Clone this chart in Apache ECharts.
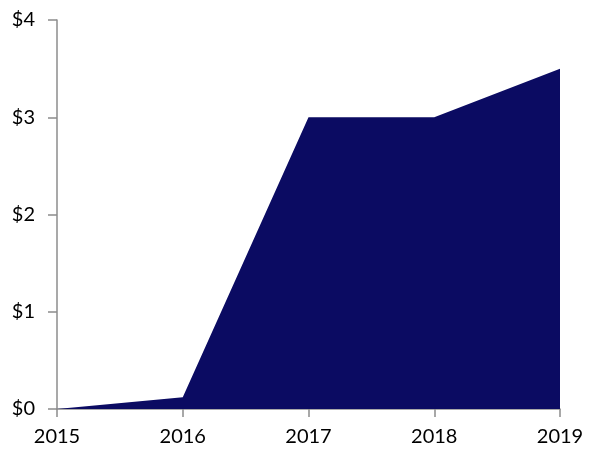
<!DOCTYPE html>
<html><head><meta charset="utf-8">
<script src="https://cdn.jsdelivr.net/npm/echarts@6/dist/echarts.min.js"></script>
<style>html,body{margin:0;padding:0;background:#fff}#c{width:596px;height:452px}</style>
</head><body><div id="c"></div>
<script>
const categories = ['2015', '2016', '2017', '2018', '2019'];
const values = [0, 0.12, 3, 3, 3.5];
const yTicks = [0, 1, 2, 3, 4];

const chart = echarts.init(document.getElementById('c'), null, {renderer: 'canvas'});
const axisColor = '#8c8c8c';
const font = 'Lato, "Open Sans", sans-serif';
chart.setOption({
  animation: false,
  grid: {left: 57, right: 36, top: 20, bottom: 43},
  xAxis: {
    type: 'category', data: categories, boundaryGap: false,
    axisLine: {lineStyle: {color: axisColor, width: 1.5}},
    axisTick: {show: true, length: 8, lineStyle: {color: axisColor, width: 1.5}},
    axisLabel: {color: '#000', fontSize: 20, fontFamily: font, margin: 18}
  },
  yAxis: {
    type: 'value', min: yTicks[0], max: yTicks[yTicks.length - 1], interval: 1,
    axisLine: {show: true, lineStyle: {color: axisColor, width: 1.5}},
    axisTick: {show: true, length: 9, lineStyle: {color: axisColor, width: 1.5}},
    splitLine: {show: false},
    axisLabel: {color: '#000', fontSize: 20, fontFamily: font, margin: 22, formatter: v => '$' + v}
  },
  series: [{
    type: 'line', data: values, symbol: 'none',
    lineStyle: {width: 0},
    areaStyle: {color: '#0b0b62', opacity: 1},
    z: 1
  }]
});
</script></body></html>
